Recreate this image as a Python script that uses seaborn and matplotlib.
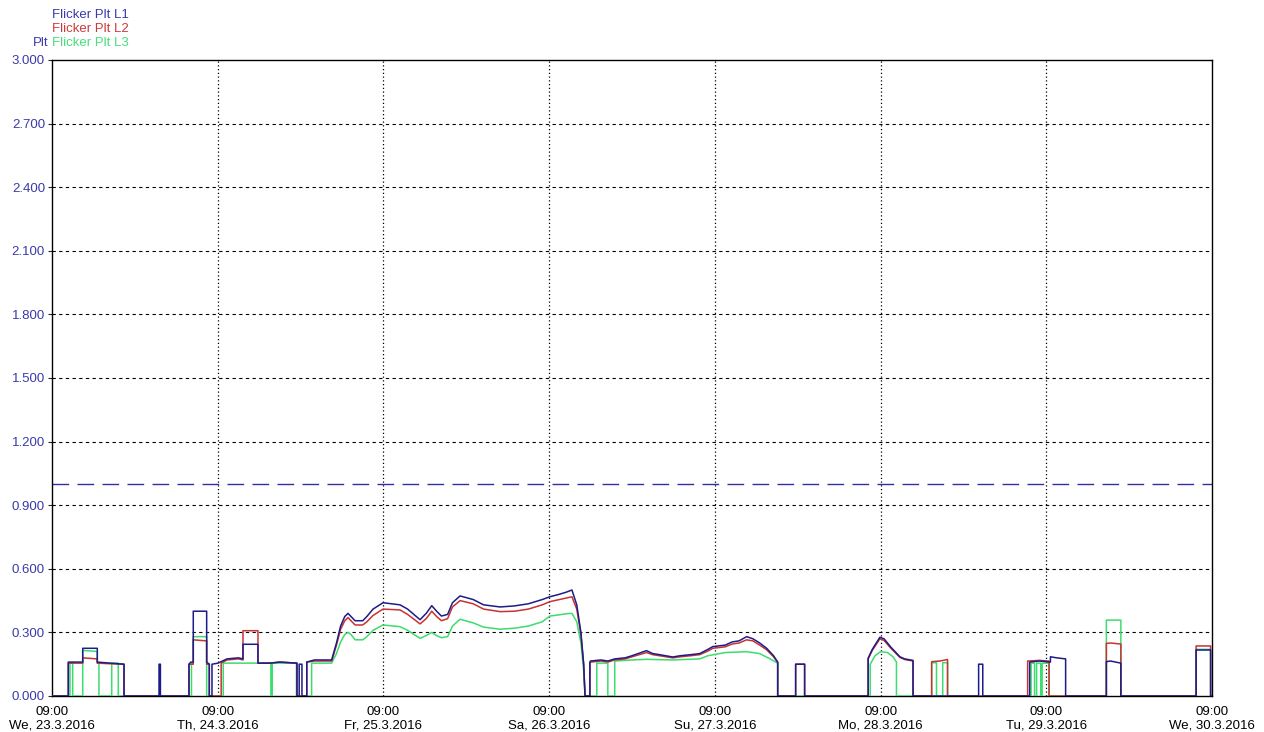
import numpy as np
import pandas as pd
import matplotlib
matplotlib.use("Agg")
import matplotlib.pyplot as plt
import seaborn as sns

# Flicker Plt per phase, hours after We 23.3.2016 09:00
t_l1 = [0, 2.36, 2.36, 4.45, 4.45, 6.56, 6.56, 8.5, 10.43, 10.43,
        15.5, 15.5, 15.7, 15.7,
        19.84, 19.84, 20.1, 20.46, 20.46, 22.4, 22.4, 22.78, 22.78, 23.17, 23.17, 24.04, 25.34, 27.0, 27.66, 27.66,
        29.83, 29.83, 31.5, 33.0, 35.48, 35.48,
        35.8, 35.8, 36.2, 36.2,
        36.9, 36.9, 38.0, 40.5, 41.2, 41.8, 42.4, 42.87, 43.3, 43.9, 45.0, 45.6, 46.5, 47.94, 50.4, 51.5, 53.3, 54.2, 55.0, 55.7,
        56.4, 57.3, 58.0, 59.1, 61.0, 62.5, 64.9, 67.0, 69.0, 71.0, 72.1, 73.5, 74.5, 75.3, 76.0, 76.6, 77.0, 77.2,
        77.9, 77.9, 78.0, 79.5, 80.5, 81.5, 83.0, 84.0, 86.1, 87.0, 88.0, 89.9, 91.0, 92.5, 93.8, 95.0, 95.7,
        97.5, 98.5, 99.5, 100.6, 101.5, 102.5, 103.5, 104.5, 105.1, 105.1,
        107.7, 107.7, 109.0, 109.0,
        118.2, 118.2, 118.8, 119.9, 120.5, 121.5, 122.8, 123.5, 124.7, 124.7,
        134.2, 134.2, 134.8, 134.8,
        141.6, 141.6, 143.0, 144.6, 144.6, 145.5, 146.8, 146.8,
        152.7, 152.7, 153.3, 154.8, 154.8,
        165.7, 165.7, 167.8, 167.8, 168]
v_l1 = [0, 0, 0.16, 0.16, 0.225, 0.225, 0.16, 0.155, 0.15, 0,
        0, 0.15, 0.15, 0,
        0, 0.15, 0.16, 0.16, 0.40, 0.40, 0.16, 0.15, 0, 0, 0.15, 0.155, 0.175, 0.18, 0.175, 0.244,
        0.244, 0.155, 0.155, 0.16, 0.155, 0,
        0, 0.15, 0.15, 0,
        0, 0.16, 0.17, 0.17, 0.25, 0.33, 0.375, 0.39, 0.375, 0.355, 0.355, 0.375, 0.41, 0.44, 0.43, 0.41, 0.36, 0.39, 0.426, 0.40,
        0.377, 0.385, 0.44, 0.472, 0.455, 0.43, 0.42, 0.425, 0.435, 0.455, 0.468, 0.48, 0.49, 0.50, 0.43, 0.30, 0.15, 0,
        0, 0.16, 0.165, 0.17, 0.165, 0.175, 0.18, 0.19, 0.214, 0.20, 0.195, 0.184, 0.19, 0.195, 0.20, 0.22, 0.233,
        0.24, 0.255, 0.26, 0.28, 0.27, 0.25, 0.225, 0.19, 0.16, 0,
        0, 0.15, 0.15, 0,
        0, 0.178, 0.22, 0.277, 0.27, 0.23, 0.185, 0.175, 0.168, 0,
        0, 0.15, 0.15, 0,
        0, 0.16, 0.165, 0.16, 0.185, 0.18, 0.175, 0,
        0, 0.162, 0.165, 0.155, 0,
        0, 0.217, 0.217, 0, 0]

t_l2 = [0, 2.36, 2.36, 4.45, 4.45, 6.56, 6.56, 8.5, 10.43, 10.43,
        19.84, 19.84, 20.46, 20.46, 22.4, 22.4, 22.78, 22.78, 24.5, 24.5, 25.34, 27.0, 27.66, 27.66,
        29.83, 29.83, 31.5, 33.0, 35.48, 35.48,
        36.9, 36.9, 38.0, 40.5, 41.2, 41.8, 42.4, 42.87, 43.3, 43.9, 45.0, 45.6, 46.5, 47.94, 50.4, 51.5, 53.3, 54.2, 55.0, 55.7,
        56.4, 57.3, 58.0, 59.1, 61.0, 62.5, 64.9, 67.0, 69.0, 71.0, 72.1, 73.5, 74.5, 75.3, 76.0, 76.6, 77.0, 77.2,
        77.9, 77.9, 78.0, 79.5, 80.5, 81.5, 83.0, 84.0, 86.1, 87.0, 88.0, 89.9, 91.0, 92.5, 93.8, 95.0, 95.7,
        97.5, 98.5, 99.5, 100.6, 101.5, 102.5, 103.5, 104.5, 105.1, 105.1,
        107.7, 107.7, 109.0, 109.0,
        118.2, 118.2, 118.8, 119.9, 120.5, 121.5, 122.8, 123.5, 124.7, 124.7,
        127.4, 127.4, 128.6, 129.7, 129.7,
        141.3, 141.3, 143.0, 144.4, 144.4,
        152.7, 152.7, 153.3, 154.8, 154.8,
        165.7, 165.7, 167.8, 167.8, 168]
v_l2 = [0, 0, 0.155, 0.155, 0.18, 0.175, 0.155, 0.152, 0.15, 0,
        0, 0.15, 0.15, 0.265, 0.26, 0.15, 0.15, 0, 0, 0.155, 0.17, 0.175, 0.17, 0.308,
        0.308, 0.155, 0.155, 0.16, 0.155, 0,
        0, 0.16, 0.165, 0.165, 0.24, 0.315, 0.355, 0.37, 0.355, 0.335, 0.335, 0.35, 0.38, 0.41, 0.406, 0.385, 0.34, 0.365, 0.40, 0.375,
        0.355, 0.365, 0.42, 0.45, 0.435, 0.41, 0.398, 0.40, 0.41, 0.43, 0.445, 0.455, 0.462, 0.468, 0.41, 0.29, 0.15, 0,
        0, 0.158, 0.16, 0.165, 0.16, 0.17, 0.175, 0.185, 0.205, 0.195, 0.19, 0.18, 0.185, 0.19, 0.195, 0.212, 0.225,
        0.232, 0.245, 0.25, 0.265, 0.26, 0.24, 0.218, 0.185, 0.158, 0,
        0, 0.15, 0.15, 0,
        0, 0.175, 0.215, 0.27, 0.262, 0.225, 0.182, 0.172, 0.165, 0,
        0, 0.162, 0.165, 0.172, 0,
        0, 0.165, 0.168, 0.165, 0,
        0, 0.248, 0.25, 0.245, 0,
        0, 0.236, 0.236, 0, 0]

t_l3 = [0, 2.6, 2.6, 3.0, 3.0, 4.45, 4.45, 6.56, 6.56, 6.8, 6.8, 8.65, 8.65, 9.6, 9.6,
        20.2, 20.2, 20.46, 20.46, 22.4, 22.4, 24.8, 24.8, 31.7, 31.7, 31.9, 31.9, 35.4, 35.4,
        37.6, 37.6, 40.5, 41.2, 41.8, 42.4, 42.87, 43.3, 43.9, 45.0, 45.6, 46.5, 47.94, 50.4, 51.5, 53.3, 54.2, 55.0, 55.7,
        56.4, 57.3, 58.0, 59.1, 61.0, 62.5, 64.9, 67.0, 69.0, 71.0, 72.1, 73.5, 74.5, 75.3, 76.0, 76.6, 77.0, 77.2,
        78.9, 78.9, 80.5, 80.5, 81.5, 81.5, 84.0, 86.1, 89.9, 93.8, 95.0, 97.5, 100.6, 102.5, 104.0, 105.1, 105.1,
        118.5, 118.5, 119.2, 120.0, 121.0, 121.8, 122.3, 122.3,
        127.4, 127.4, 128.1, 128.1, 129.0, 129.0, 129.7, 129.7,
        141.8, 141.8, 142.3, 142.3, 142.6, 142.6, 143.2, 143.2, 143.4, 143.4, 144.4, 144.4,
        152.7, 152.7, 154.8, 154.8,
        165.7, 165.7, 167.8, 167.8, 168]
v_l3 = [0, 0, 0.155, 0.155, 0, 0, 0.215, 0.21, 0.155, 0.155, 0, 0, 0.155, 0.155, 0,
        0, 0.155, 0.155, 0.28, 0.28, 0, 0, 0.155, 0.155, 0, 0, 0.155, 0.155, 0,
        0, 0.155, 0.155, 0.20, 0.255, 0.29, 0.30, 0.29, 0.265, 0.265, 0.28, 0.31, 0.335, 0.327, 0.31, 0.272, 0.285, 0.30, 0.285,
        0.275, 0.28, 0.33, 0.362, 0.345, 0.325, 0.315, 0.32, 0.33, 0.35, 0.377, 0.383, 0.388, 0.39, 0.35, 0.25, 0.12, 0,
        0, 0.155, 0.155, 0, 0, 0.165, 0.17, 0.173, 0.17, 0.175, 0.19, 0.205, 0.209, 0.20, 0.175, 0.155, 0,
        0, 0.15, 0.19, 0.209, 0.205, 0.185, 0.16, 0,
        0, 0.157, 0.157, 0, 0, 0.157, 0.157, 0,
        0, 0.155, 0.155, 0, 0, 0.155, 0.155, 0, 0, 0.155, 0.155, 0,
        0, 0.358, 0.358, 0,
        0, 0.22, 0.22, 0, 0]

limit_value = 1.0
series_names = ["Flicker Plt L1", "Flicker Plt L2", "Flicker Plt L3"]
series_colors = ["#1c1c8a", "#c83232", "#3ddc6e"]
label_colors = ["#3a3aaa", "#cc3b3b", "#45e07a"]
day_names = ["We", "Th", "Fr", "Sa", "Su", "Mo", "Tu", "We"]
y_ticks = [0.0, 0.3, 0.6, 0.9, 1.2, 1.5, 1.8, 2.1, 2.4, 2.7, 3.0]

sns.set_style("white")
plt.rcParams["font.family"] = ["Liberation Sans", "DejaVu Sans"]
FS = 9.5

fig = plt.figure(figsize=(12.64, 7.32), dpi=100)
ax = fig.add_axes([52 / 1264, 1 - 696 / 732, 1160 / 1264, 636 / 732])

# grid: dashed horizontals, dotted verticals at each 09:00
for yv in y_ticks[1:-1]:
    ax.axhline(yv, color="black", lw=0.8, dashes=(3, 3), zorder=1)
for d in range(1, 7):
    ax.axvline(24 * d, color="black", lw=0.9, dashes=(1, 2), zorder=1)

ax.axhline(limit_value, color="#3030a0", lw=1.0, dashes=(12, 6), zorder=2)

frames = [(t_l3, v_l3, series_colors[2]), (t_l2, v_l2, series_colors[1]), (t_l1, v_l1, series_colors[0])]
for tt, vv, col in frames:
    sns.lineplot(x=tt, y=vv, ax=ax, color=col, lw=1.1, estimator=None, sort=False, zorder=3)

ax.set_xlim(0, 168)
ax.set_ylim(0, 3.0)

start = pd.Timestamp("2016-03-23 09:00")
days = [start + pd.Timedelta(days=i) for i in range(8)]
ax.set_xticks([24 * i for i in range(8)])
ax.set_xticklabels([f"{d:%H:%M}\n{n}, {d.day}.{d.month}.{d.year}" for d, n in zip(days, day_names)],
                   fontsize=FS, color="black", linespacing=1.2)
ax.set_yticks(y_ticks)
ax.set_yticklabels([f"{v:.3f}" for v in y_ticks], fontsize=FS, color="#3a3aaa")
ax.tick_params(axis="y", length=3, width=0.8, pad=2, left=True)
ax.tick_params(axis="x", length=0, pad=7)

for s in ax.spines.values():
    s.set_color("black")
    s.set_linewidth(1.0)

# series names stacked above the axis
for i, (name, col) in enumerate(zip(series_names, label_colors)):
    fig.text(52 / 1264, 1 - (15 + 14 * i) / 732, name, color=col, fontsize=FS,
             ha="left", va="center")
fig.text(49 / 1264, 1 - 43 / 732, "Plt", color="#3a3aaa", fontsize=FS, ha="right", va="center")

fig.savefig("out.png", dpi=100)
